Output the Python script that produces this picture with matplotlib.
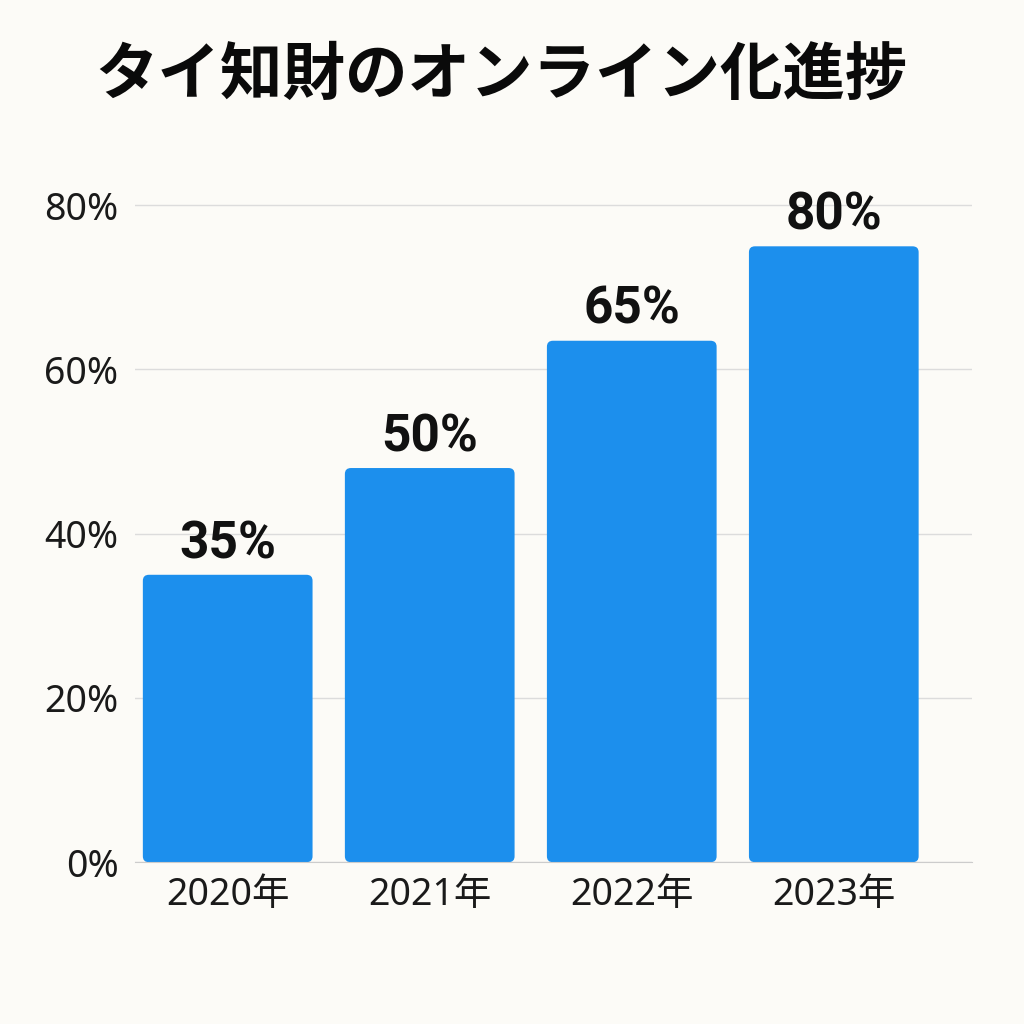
import matplotlib
matplotlib.use('Agg')
import matplotlib.pyplot as plt
from matplotlib.patches import FancyBboxPatch
import numpy as np

plt.rcParams['font.family'] = ['Noto Sans', 'Noto Sans CJK JP', 'DejaVu Sans']

# data
years = ['2020年', '2021年', '2022年', '2023年']
bar_heights = [35, 48, 63.5, 75]        # drawn heights
bar_labels = ['35%', '50%', '65%', '80%']  # printed labels
yticks = [0, 20, 40, 60, 80]
title = 'タイ知財のオンライン化進捗'

bg = '#fcfbf7'
blue = '#1c8fed'

fig = plt.figure(figsize=(10.24, 10.24), dpi=100, facecolor=bg)
ax = fig.add_axes([0.132, 0.158, 0.817, 0.656])
ax.set_facecolor(bg)

xs = np.arange(len(years))
bars = ax.bar(xs, bar_heights, width=0.84, color=blue, zorder=3)

# swap plain rectangles for slightly rounded ones
for b in bars:
    x0, y0 = b.get_x(), b.get_y()
    w, h = b.get_width(), b.get_height()
    b.set_visible(False)
    ax.add_patch(FancyBboxPatch((x0, y0), w, h,
                                boxstyle='round,pad=0,rounding_size=0.03',
                                mutation_aspect=24, fc=blue, ec='none', zorder=3))

for x, h, lab in zip(xs, bar_heights, bar_labels):
    ax.text(x, h + 0.7, lab, ha='center', va='bottom', fontsize=37,
            fontweight='bold', color='#111111', family='Roboto')

ax.set_xlim(-0.458, 3.683)
ax.set_ylim(0, 81.8)
ax.set_yticks(yticks)
ax.set_yticklabels([f'{v}%' for v in yticks])
ax.set_xticks(xs)
ax.set_xticklabels(years)
ax.tick_params(axis='both', length=0, labelsize=27, colors='#1a1a1a')
ax.tick_params(axis='y', pad=12)
ax.tick_params(axis='x', pad=10)

ax.grid(axis='y', color='#dcdcdc', linewidth=1, zorder=0)
for s in ['top', 'right', 'left']:
    ax.spines[s].set_visible(False)
ax.spines['bottom'].set_color('#cccccc')
ax.spines['bottom'].set_zorder(4)

fig.text(0.49, 0.926, title, ha='center', va='center', fontsize=45,
         fontweight='bold', color='#0a0a0a', family='Noto Sans CJK JP')

fig.savefig('out.png', dpi=100, facecolor=bg)
